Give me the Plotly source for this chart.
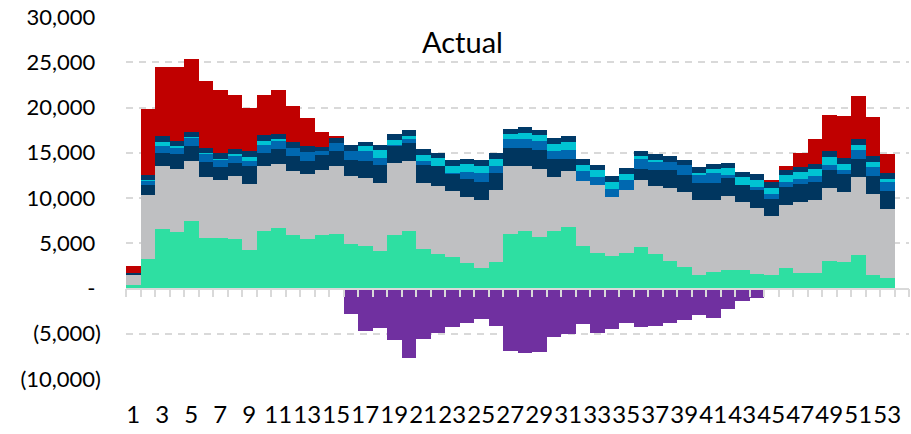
import plotly.graph_objects as go

# Week numbers (one extra empty slot at the end of the axis)
weeks = list(range(1, 54))

# Stacked components, bottom to top (units)
green = [400, 3240, 6520, 6220, 7440, 5600, 5560, 5520, 4270, 6340,
         6740, 5890, 5450, 5890, 5970, 4900, 4750, 4120, 5890, 6300,
         4310, 3790, 3460, 2800, 2250, 2980, 5970, 6300, 5670, 6300,
         6780, 4680, 3900, 3570, 3900, 4560, 3830, 3090, 2430, 1510,
         1770, 1990, 2060, 1580, 1510, 2250, 1690, 1690, 3090, 2980,
         3650, 1440, 1140]
grey = [1150, 7110, 7070, 7000, 6670, 6670, 6440, 6930, 7260, 7180,
        7000, 7110, 7180, 7220, 7550, 7480, 7440, 7560, 7930, 7790,
        7400, 7550, 7260, 7290, 7580, 7850, 7550, 7290, 7550, 6000,
        6150, 7250, 7520, 6560, 7020, 7450, 7480, 8070, 8250, 8290,
        8030, 8210, 7480, 7370, 6450, 6990, 7850, 8110, 8070, 7660,
        8690, 8950, 7630]
navy = [100, 1100, 1360, 1660, 1620, 1730, 1480, 1400, 2020, 1430,
        1660, 1660, 1510, 1590, 1690, 1840, 1920, 1990, 2020, 1990,
        1920, 2160, 2000, 2030, 1990, 1910, 1990, 1920, 2030, 2030,
        1400, 0, 0, 0, 0, 1210, 1800, 1950, 1880, 1840,
        1840, 1990, 1920, 1950, 1950, 1960, 2030, 2020, 1950, 1990,
        1950, 1990, 1980]
blue = [50, 450, 850, 740, 950, 880, 810, 810, 520, 960,
        990, 920, 920, 470, 850, 950, 1060, 770, 60, 420,
        460, 0, 80, 730, 960, 850, 990, 1060, 1030, 870,
        920, 1010, 880, 900, 1040, 1090, 950, 850, 1110, 960,
        1100, 370, 0, 300, 550, 550, 510, 590, 590, 410,
        1030, 1030, 1000]
cyan = [0, 100, 440, 110, 40, 70, 70, 180, 440, 440,
        110, 0, 0, 0, 0, 0, 560, 810, 550, 330,
        700, 870, 790, 870, 810, 740, 520, 630, 660, 770,
        920, 740, 740, 740, 670, 290, 100, 0, 0, 180,
        480, 770, 840, 840, 700, 740, 740, 740, 810, 740,
        590, 620, 400]
navy_top = [50, 500, 630, 620, 590, 630, 560, 590, 630, 590,
            590, 590, 700, 520, 660, 700, 470, 630, 640, 670,
            660, 620, 630, 610, 630, 660, 620, 630, 590, 640,
            630, 650, 630, 640, 670, 630, 650, 630, 580, 630,
            560, 590, 550, 630, 660, 580, 590, 590, 630, 620,
            590, 630, 630]
red = [750, 7350, 7660, 8110, 8070, 7370, 6960, 5970, 4790, 4460,
       4790, 4050, 3100, 1550, 80, 0, 0, 0, 0, 0,
       0, 0, 0, 0, 0, 0, 0, 0, 0, 0,
       0, 0, 0, 0, 0, 0, 0, 0, 0, 0,
       0, 0, 0, 0, 220, 490, 1580, 2830, 4050, 4640,
       4750, 4270, 2060]
purple = [0, 0, 0, 0, 0, 0, 0, 0, 0, 0,
          0, 0, 0, 0, -80, -2820, -4660, -4400, -5710, -7670,
          -5600, -4960, -4210, -3830, -3380, -4100, -6880, -7140, -6990, -5340,
          -5040, -3870, -4920, -4470, -3800, -4210, -4140, -3830, -3500, -2890,
          -3310, -2220, -1390, -1090, -100, 0, 0, 0, 0, 0,
          0, 0, 0]

y_ticks = [-10000, -5000, 0, 5000, 10000, 15000, 20000, 25000, 30000]
x_ticks = list(range(1, 54, 2))


def acct(v):
    if v == 0:
        return "-\u00a0"
    if v < 0:
        return "({:,})".format(-v)
    return "{:,}\u00a0".format(v)


series = [
    ("Component A", green, "#2EDFA2"),
    ("Component B", grey, "#BFC0C2"),
    ("Component C", navy, "#00365F"),
    ("Component D", blue, "#0068B0"),
    ("Component E", cyan, "#00C3D3"),
    ("Component F", navy_top, "#003A68"),
    ("Component G", red, "#C00000"),
    ("Offset", purple, "#7030A0"),
]

FONT = "Lato"
GRID = "#D9D9D9"

fig = go.Figure()
for name, vals, col in series:
    fig.add_trace(go.Bar(
        x=weeks, y=vals, name=name,
        marker=dict(color=col, line=dict(width=0)),
        showlegend=False,
    ))

# Invisible trace to host the zero-level category axis
fig.add_trace(go.Scatter(x=[None], y=[None], xaxis="x2", yaxis="y",
                         showlegend=False, hoverinfo="skip"))

fig.update_layout(
    width=911, height=434,
    margin=dict(l=126, r=2, t=17, b=55),
    paper_bgcolor="white", plot_bgcolor="white",
    barmode="relative", bargap=0, bargroupgap=0,
    font=dict(family=FONT, color="#000000"),
    xaxis=dict(
        range=[0.5, 54.5], tickmode="array", tickvals=x_ticks,
        ticktext=[str(v) for v in x_ticks], tickangle=0,
        showgrid=False, zeroline=False, showline=False, ticks="",
        ticklabelstandoff=19,
        tickfont=dict(family=FONT, size=24, color="#000000"),
    ),
    xaxis2=dict(
        overlaying="x", anchor="free", position=0.25, side="bottom",
        range=[0.5, 54.5], matches="x",
        tickmode="array", tickvals=[i + 0.5 for i in range(0, 55)],
        showticklabels=False, showgrid=False, zeroline=False,
        showline=True, linecolor=GRID, linewidth=1.5,
        ticks="outside", ticklen=8, tickwidth=1.5, tickcolor=GRID,
    ),
    yaxis=dict(
        range=[-10000, 30000], tickmode="array", tickvals=y_ticks,
        ticktext=[acct(v) for v in y_ticks],
        showgrid=True, gridcolor=GRID, gridwidth=1.5, griddash="7px,6px",
        zeroline=False, showline=False, ticks="",
        ticklabelstandoff=24,
        tickfont=dict(family=FONT, size=22, color="#000000"),
    ),
    annotations=[dict(
        text="Actual", xref="paper", yref="paper", x=0.43, y=0.931,
        xanchor="center", yanchor="middle", showarrow=False,
        font=dict(family=FONT, size=29, color="#000000"),
    )],
)

fig.write_html("out.html")
